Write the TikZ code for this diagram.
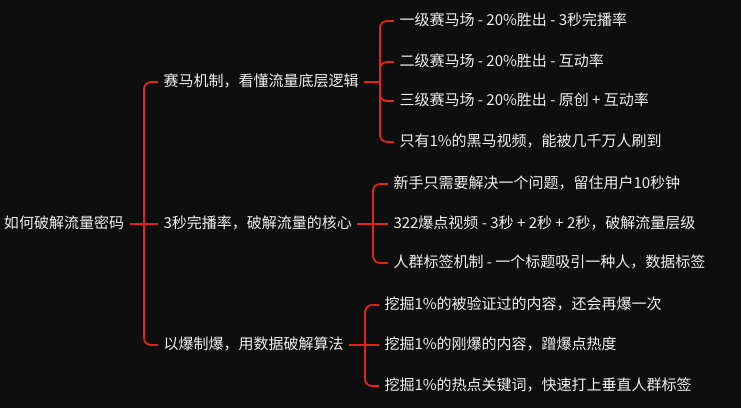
\documentclass[tikz,border=0pt]{standalone}
\usepackage{fontspec}
\setmainfont{Noto Sans CJK SC}
\usetikzlibrary{calc}
\definecolor{bgdark}{HTML}{0E0E0E}
\definecolor{linkred}{HTML}{E2241B}
\definecolor{textlight}{HTML}{F0F0F0}
\tikzset{
	topic/.style={anchor=west, inner sep=0pt, outer sep=5.5pt, text=textlight, font=\fontsize{15}{17}\selectfont, text height=11pt, text depth=3pt},
	link/.style={draw=linkred, line width=1.8pt, rounded corners=7pt}
}

\begin{document}
\begin{tikzpicture}[x=1pt, y=-1pt]
		%%%%% START %%%%%
		\fill[bgdark] (0, 0) rectangle (741, 408);
		\useasboundingbox (0, 0) rectangle (741, 408);
		
		\node[topic] (root) at (-1.5, 224) {如何破解流量密码};
		
		\node[topic] (race) at (158, 82) {赛马机制，看懂流量底层逻辑};
		\node[topic] (finish) at (158, 224) {3秒完播率，破解流量的核心};
		\node[topic] (boom) at (158, 345) {以爆制爆，用数据破解算法};
		
		\node[topic] (race1) at (394, 21) {一级赛马场 - 20\%胜出 - 3秒完播率};
		\node[topic] (race2) at (394, 62) {二级赛马场 - 20\%胜出 - 互动率};
		\node[topic] (race3) at (394, 101) {三级赛马场 - 20\%胜出 - 原创 + 互动率};
		\node[topic] (race4) at (394, 142) {只有1\%的黑马视频，能被几千万人刷到};
		
		\node[topic] (finish1) at (388, 184) {新手只需要解决一个问题，留住用户10秒钟};
		\node[topic] (finish2) at (388, 224) {322爆点视频 - 3秒 + 2秒 + 2秒，破解流量层级};
		\node[topic] (finish3) at (388, 263) {人群标签机制 - 一个标题吸引一种人，数据标签};
		
		\node[topic] (boom1) at (379, 305) {挖掘1\%的被验证过的内容，还会再爆一次};
		\node[topic] (boom2) at (379, 345) {挖掘1\%的刚爆的内容，蹭爆点热度};
		\node[topic] (boom3) at (379, 386) {挖掘1\%的热点关键词，快速打上垂直人群标签};
		
		% trunks
		\coordinate (tRoot) at (144, 224);
		\coordinate (tRace) at (380, 82);
		\coordinate (tFinish) at (373, 224);
		\coordinate (tBoom) at (365, 345);
		
		\draw[link] (root.east) -- (tRoot);
		\draw[link] (tRoot) |- (race.west);
		\draw[link] (tRoot) -- (finish.west);
		\draw[link] (tRoot) |- (boom.west);
		
		\draw[link] (race.east) -- (tRace);
		\foreach \n in {race1, race2, race3, race4}
			\draw[link] (tRace) |- (\n.west);
		
		\draw[link] (finish.east) -- (tFinish);
		\draw[link] (tFinish) |- (finish1.west);
		\draw[link] (tFinish) -- (finish2.west);
		\draw[link] (tFinish) |- (finish3.west);
		
		\draw[link] (boom.east) -- (tBoom);
		\draw[link] (tBoom) |- (boom1.west);
		\draw[link] (tBoom) -- (boom2.west);
		\draw[link] (tBoom) |- (boom3.west);
		%%%%% END %%%%%
\end{tikzpicture}
\end{document}
